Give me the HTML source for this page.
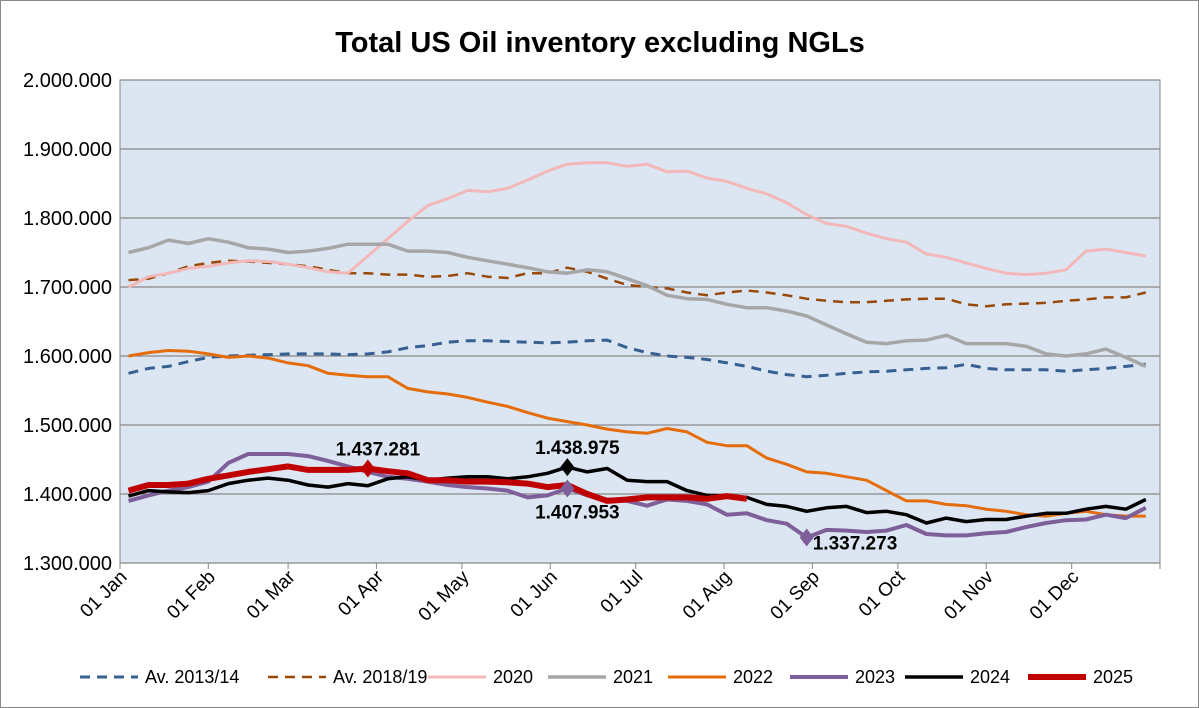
<!DOCTYPE html>
<html><head><meta charset="utf-8"><style>
body{margin:0;background:#fff;}
svg{display:block;font-family:"Liberation Sans",Arial,sans-serif;}
</style></head><body>
<svg id="chart" width="1199" height="708">
<rect x="0.5" y="0.5" width="1198" height="707" fill="#fff" stroke="#888"/>
<text x="600" y="52" text-anchor="middle" font-size="29" font-weight="bold">Total US Oil inventory excluding NGLs</text>
<rect x="120" y="80" width="1040" height="483" fill="#dce6f2" stroke="#888"/>
<g id="grid"></g><g id="series"></g><g id="labels"></g><g id="legend"></g>
</svg>
<script>
const yTicks=[1300,1400,1500,1600,1700,1800,1900,2000];
const yTickLabels=["1.300.000","1.400.000","1.500.000","1.600.000","1.700.000","1.800.000","1.900.000","2.000.000"];
const months=["01 Jan","01 Feb","01 Mar","01 Apr","01 May","01 Jun","01 Jul","01 Aug","01 Sep","01 Oct","01 Nov","01 Dec"];
const monthDays=[0,31,59,90,120,151,181,212,243,273,304,334];
const av1314=[1575,1582,1585,1592,1598,1600,1601,1602,1603,1603,1603,1602,1603,1606,1612,1615,1620,1622,1622,1621,1620,1619,1620,1622,1623,1612,1605,1600,1598,1595,1590,1585,1578,1573,1570,1572,1575,1577,1578,1580,1582,1583,1588,1582,1580,1580,1580,1578,1580,1582,1585,1588];
const av1819=[1710,1712,1720,1730,1735,1738,1737,1735,1733,1730,1725,1720,1720,1718,1718,1715,1716,1720,1715,1713,1720,1720,1728,1722,1712,1703,1700,1698,1692,1688,1692,1695,1692,1688,1683,1680,1678,1678,1680,1682,1683,1683,1675,1672,1675,1676,1677,1680,1682,1685,1685,1692];
const s2020=[1700,1715,1720,1727,1730,1735,1738,1737,1733,1728,1722,1720,1745,1770,1795,1818,1828,1840,1838,1843,1855,1868,1878,1880,1880,1875,1878,1867,1868,1858,1853,1843,1835,1822,1805,1792,1788,1778,1770,1765,1748,1743,1735,1727,1720,1718,1720,1725,1752,1755,1750,1745];
const s2021=[1750,1757,1768,1763,1770,1765,1757,1755,1750,1752,1756,1762,1762,1762,1752,1752,1750,1743,1738,1733,1728,1722,1720,1725,1722,1712,1702,1688,1683,1682,1675,1670,1670,1665,1658,1645,1632,1620,1618,1622,1623,1630,1618,1618,1618,1614,1603,1600,1603,1610,1598,1585];
const s2022=[1600,1605,1608,1607,1603,1598,1600,1597,1590,1586,1575,1572,1570,1570,1553,1548,1545,1540,1533,1527,1518,1510,1505,1500,1494,1490,1488,1495,1490,1475,1470,1470,1452,1443,1432,1430,1425,1420,1405,1390,1390,1385,1383,1378,1375,1370,1368,1372,1375,1370,1368,1368];
const s2023=[1390,1398,1405,1410,1418,1445,1458,1458,1458,1455,1448,1440,1432,1425,1422,1418,1413,1410,1408,1405,1395,1398,1408,1398,1392,1390,1383,1392,1390,1385,1370,1372,1362,1357,1337,1348,1347,1345,1347,1355,1342,1340,1340,1343,1345,1352,1358,1362,1363,1370,1365,1380];
const s2024=[1397,1405,1403,1402,1405,1415,1420,1423,1420,1413,1410,1415,1412,1422,1425,1420,1423,1425,1425,1422,1425,1430,1439,1432,1437,1420,1418,1418,1405,1398,1397,1395,1385,1382,1375,1380,1382,1373,1375,1370,1358,1365,1360,1363,1363,1368,1372,1372,1378,1382,1378,1392];
const s2025=[1405,1413,1413,1415,1422,1427,1432,1436,1440,1435,1435,1435,1437,1433,1430,1420,1420,1418,1418,1417,1415,1410,1413,1400,1390,1392,1395,1395,1395,1393,1397,1393];
const NS="http://www.w3.org/2000/svg";
const X0=120,PX=1040/365,Y0=563,PV=483/700;
function xDay(d){return X0+d*PX;}
function xWeek(i){return xDay(3+7*i);}
function yV(v){return Y0-(v-1300)*PV;}
function mk(t,a,p){const e=document.createElementNS(NS,t);for(const k in a)e.setAttribute(k,a[k]);p.appendChild(e);return e;}
const grid=document.getElementById('grid');
yTicks.forEach((v,i)=>{
  const l=mk('line',{x1:X0,x2:1160,y1:yV(v),y2:yV(v),stroke:'#888','stroke-width':1.3},grid);
  
  
  const t=mk('text',{x:112,y:yV(v)+7,'text-anchor':'end','font-size':20},grid);
  t.textContent=yTickLabels[i];
  
  
});
monthDays.concat([365]).forEach(d=>{
  const l=mk('line',{x1:xDay(d),x2:xDay(d),y1:563,y2:569,stroke:'#888'},grid);
  
  
});
months.forEach((m,i)=>{
  const x=xDay(monthDays[i])+8,y=578;
  const t=mk('text',{x:x,y:y,'text-anchor':'end','font-size':19,transform:`rotate(-45 ${x} ${y})`},grid);
  t.textContent=m;
  
  
});
const ser=document.getElementById('series');
const defs=[
 ['av-2013-14',av1314,'#376092',3,'10,7'],
 ['av-2018-19',av1819,'#984807',2.5,'10,7'],
 ['2020',s2020,'#f2b8b8',3,null],
 ['2021',s2021,'#a6a6a6',3.5,null],
 ['2022',s2022,'#e46c0a',3,null],
 ['2023',s2023,'#7f5f9a',4,null],
 ['2024',s2024,'#000',3.5,null],
 ['2025',s2025,'#c00000',6,null]];
defs.forEach(([n,d,c,w,da])=>{
  const p=mk('polyline',{points:d.map((v,i)=>xWeek(i).toFixed(1)+','+yV(v).toFixed(1)).join(' '),fill:'none',stroke:c,'stroke-width':w,'stroke-linejoin':'round'},ser);
  if(da)p.setAttribute('stroke-dasharray',da);
  
  
});
const lab=document.getElementById('labels');
function marker(i,arr,c,txt,dy,name){
  const x=xWeek(i),y=yV(arr[i]);
  const m=mk('polygon',{points:`${x},${y-9} ${x+7},${y} ${x},${y+9} ${x-7},${y}`,fill:c},lab);
  
  
  const t=mk('text',{x:x+10,y:y+dy,'text-anchor':'middle','font-size':19,'font-weight':'bold'},lab);
  t.textContent=txt;
  
  
}
marker(12,s2025,'#c00000','1.437.281',-13,'max-2025');
marker(22,s2024,'#000','1.438.975',-13,'max-2024');
marker(22,s2023,'#7f5f9a','1.407.953',30,'point-2023');
marker(34,s2023,'#7f5f9a','1.337.273',12,'min-2023');
lab.lastChild.setAttribute('x',855);
const leg=document.getElementById('legend');
const legX=[80,268,428,548,668,790,905,1028];
const legLabels=['Av. 2013/14','Av. 2018/19','2020','2021','2022','2023','2024','2025'];
defs.forEach((d,i)=>{
  const x=legX[i],y=677;
  const g=mk('g',{},leg);
  
  
  const l=mk('line',{x1:x,x2:x+58,y1:y,y2:y,stroke:d[2],'stroke-width':d[3]},g);
  if(d[4])l.setAttribute('stroke-dasharray',d[4]);
  const t=mk('text',{x:x+65,y:y+6,'font-size':18},g);
  t.textContent=legLabels[i];
});
</script>
</body></html>
